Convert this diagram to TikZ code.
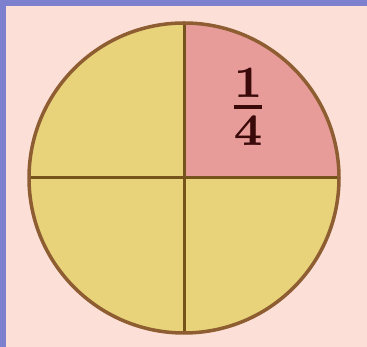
\documentclass[tikz,border=0pt]{standalone}
\usepackage{amsmath}
\usepackage{graphicx}
\definecolor{frameblue}{HTML}{7C80CE}
\definecolor{paper}{HTML}{FCE0D8}
\definecolor{quarteryellow}{HTML}{E8D27A}
\definecolor{quarterpink}{HTML}{E89C9A}
\definecolor{rimbrown}{HTML}{8E5E32}
\definecolor{crossbrown}{HTML}{76521C}
\definecolor{inkbrown}{HTML}{3A0A0A}
\begin{document}
\begin{tikzpicture}[x=1pt, y=1pt,
    rim/.style={draw=rimbrown, line width=3.5pt},
    cross/.style={draw=crossbrown, line width=3pt}]
    \useasboundingbox (0,0) rectangle (367,347);
    \fill[frameblue] (0,0) rectangle (367,347);
    \fill[paper] (6,0) rectangle (367,341);
    \coordinate (c) at (184,169);
    % the four quarters
    \fill[quarteryellow] (c) circle (155);
    \fill[quarterpink] (c) -- ++(155,0) arc (0:90:155) -- cycle;
    \draw[cross] ([yshift=155pt]c) coordinate (top) -- ([yshift=-155pt]c) coordinate (bottom);
    \draw[cross] ([xshift=-155pt]c) coordinate (left) -- ([xshift=155pt]c) coordinate (right);
    \draw[rim] (c) circle (155);
    \node[text=inkbrown, inner sep=0pt]
        (quarter) at (248,240) {\scalebox{6.4}{$\genfrac{}{}{0.7pt}{1}{\mathbf{1}}{\mathbf{4}}$}};
\end{tikzpicture}
\end{document}
